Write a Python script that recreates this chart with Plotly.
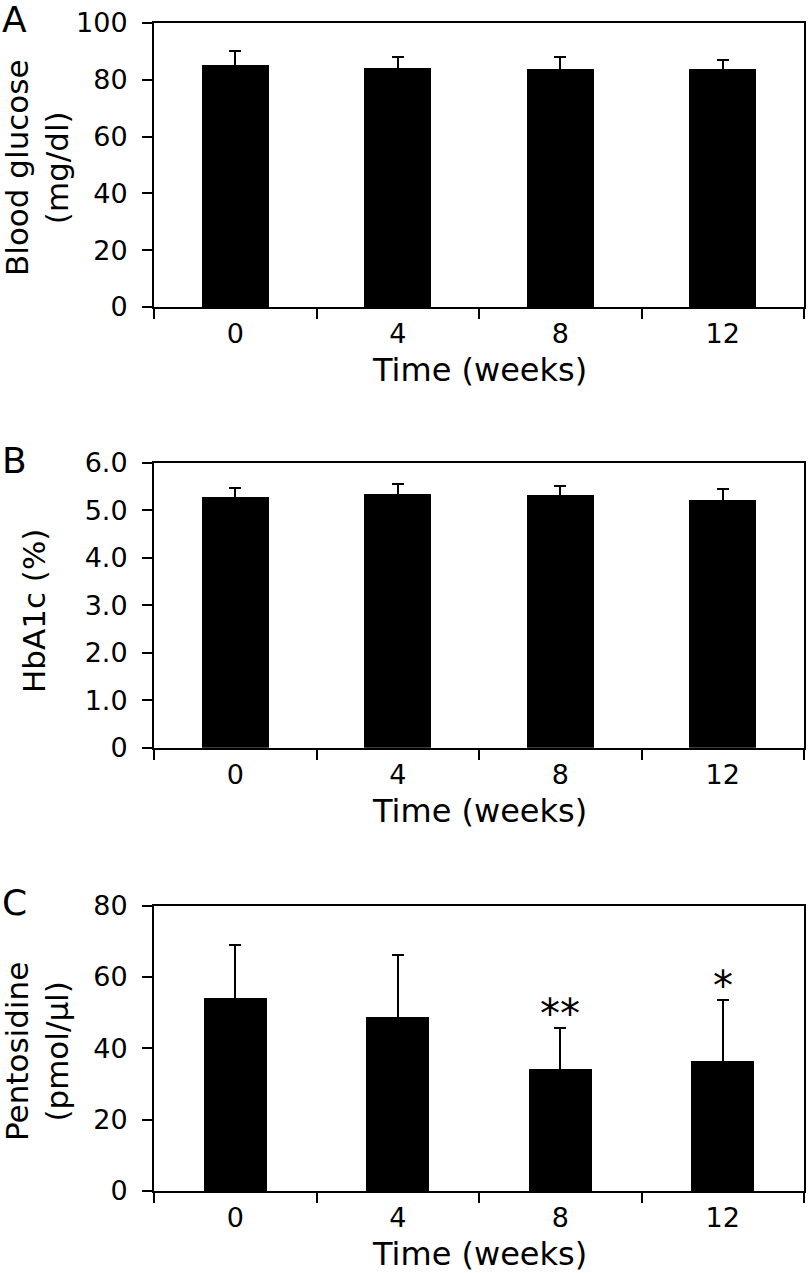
import plotly.graph_objects as go

weeks = ["0", "4", "8", "12"]

glucose_mean = [85.2, 84.0, 83.8, 83.8]
glucose_sd = [4.9, 4.1, 4.3, 3.1]

hba1c_mean = [5.29, 5.34, 5.33, 5.23]
hba1c_sd = [0.18, 0.21, 0.18, 0.22]

pento_mean = [54.1, 49.0, 34.3, 36.5]
pento_sd = [14.8, 17.2, 11.5, 17.0]
pento_sig = ["", "", "**", "*"]

glucose_ticks = [0, 20, 40, 60, 80, 100]
glucose_ticktext = ["0", "20", "40", "60", "80", "100"]
hba1c_ticks = [0, 1, 2, 3, 4, 5, 6]
hba1c_ticktext = ["0", "1.0", "2.0", "3.0", "4.0", "5.0", "6.0"]
pento_ticks = [0, 20, 40, 60, 80]
pento_ticktext = ["0", "20", "40", "60", "80"]

W, H = 808, 1273
FONT = "DejaVu Sans"

def py(px):
    return 1 - px / H

# panel pixel geometry (top, bottom)
panels = [
    (23, 307),
    (462.7, 747.7),
    (905.7, 1191),
]
x_dom = [154 / W, 804 / W]

fig = go.Figure()

datasets = [
    (glucose_mean, glucose_sd, 0.41),
    (hba1c_mean, hba1c_sd, 0.41),
    (pento_mean, pento_sd, 0.39),
]

for i, (m, sd, bw) in enumerate(datasets):
    suffix = "" if i == 0 else str(i + 1)
    fig.add_trace(go.Bar(
        x=weeks, y=m, width=bw,
        marker=dict(color="black", line=dict(width=0)),
        error_y=dict(type="data", symmetric=True, array=sd, color="black",
                     thickness=2, width=6),
        xaxis="x" + suffix, yaxis="y" + suffix, showlegend=False,
    ))

yspecs = [
    ([0, 100], glucose_ticks, glucose_ticktext),
    ([0, 6], hba1c_ticks, hba1c_ticktext),
    ([0, 80], pento_ticks, pento_ticktext),
]

layout = dict(
    width=W, height=H,
    margin=dict(l=0, r=0, t=0, b=0, autoexpand=False),
    paper_bgcolor="white", plot_bgcolor="white",
    font=dict(family=FONT, color="black", size=27),
    bargap=0,
)

for i, ((top, bot), (rng, tv, tt)) in enumerate(zip(panels, yspecs)):
    suffix = "" if i == 0 else str(i + 1)
    layout["xaxis" + suffix] = dict(
        domain=x_dom, anchor="y" + suffix,
        type="category", range=[-0.5, 3.5], automargin=False,
        showline=True, linecolor="black", linewidth=2, mirror=True,
        ticks="outside", ticklen=10, tickwidth=1.5, tickcolor="black",
        tickson="boundaries", showgrid=False, zeroline=False,
        ticklabelstandoff=2,
        tickfont=dict(family=FONT, size=27, color="black"),
        fixedrange=True,
    )
    layout["yaxis" + suffix] = dict(
        domain=[py(bot), py(top)], anchor="x" + suffix,
        range=rng, tickvals=tv, ticktext=tt, automargin=False,
        showline=True, linecolor="black", linewidth=2, mirror=True,
        ticks="outside", ticklen=10, tickwidth=1.5, tickcolor="black",
        showgrid=False, zeroline=False, ticklabelstandoff=9,
        tickfont=dict(family=FONT, size=27, color="black"),
        fixedrange=True,
    )

fig.update_layout(**layout)

annotations = []
# panel letters
for letter, top in zip(["A", "B", "C"], [20, 460, 903]):
    annotations.append(dict(text=letter, x=14 / W, y=py(top), xref="paper", yref="paper",
                            xanchor="center", yanchor="middle", showarrow=False,
                            font=dict(family=FONT, size=36, color="black")))
# y titles
ytitles = ["Blood glucose<br>(mg/dl)", "HbA1c (%)", "Pentosidine<br>(pmol/µl)"]
yt_x = [37, 34, 37]
yt_y = [168, 611, 1052]
for t, xx, yy in zip(ytitles, yt_x, yt_y):
    annotations.append(dict(text=t, x=xx / W, y=py(yy), xref="paper", yref="paper",
                            xanchor="center", yanchor="middle", textangle=-90,
                            showarrow=False,
                            font=dict(family=FONT, size=31, color="black")))
# x titles
for (top, bot) in panels:
    annotations.append(dict(text="Time (weeks)", x=479 / W, y=py(bot + 63), xref="paper",
                            yref="paper", xanchor="center", yanchor="middle",
                            showarrow=False,
                            font=dict(family=FONT, size=32, color="black")))
# significance marks
for idx, (m, sd, s) in enumerate(zip(pento_mean, pento_sd, pento_sig)):
    if s:
        annotations.append(dict(text=s, x=idx, y=m + sd, xref="x3", yref="y3",
                                xanchor="center", yanchor="bottom", yshift=-11,
                                showarrow=False,
                                font=dict(family=FONT, size=40, color="black")))

fig.update_layout(annotations=annotations)

fig.write_html("out.html", config={"displayModeBar": False},
               post_script="document.body.style.margin='0';document.body.style.overflow='hidden';")
